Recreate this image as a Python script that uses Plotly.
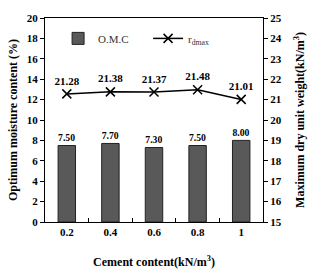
import plotly.graph_objects as go

categories = ["0.2", "0.4", "0.6", "0.8", "1"]
omc = [7.50, 7.70, 7.30, 7.50, 8.00]
rdmax = [21.28, 21.38, 21.37, 21.48, 21.01]

font_family = "Liberation Serif, Times New Roman, serif"

fig = go.Figure()
fig.add_trace(go.Bar(
    x=categories, y=omc, name="O.M.C",
    marker=dict(color="#595959", line=dict(color="#222222", width=1)),
    width=0.4,
    text=[f"{v:.2f}" for v in omc], textposition="outside",
    textfont=dict(family=font_family, size=11, color="black", weight="bold"),
    cliponaxis=False,
))
fig.add_trace(go.Scatter(
    x=categories, y=rdmax, name="r<sub>dmax</sub>", yaxis="y2",
    mode="lines+markers+text",
    line=dict(color="black", width=1.5),
    marker=dict(symbol="x-thin", size=9, line=dict(color="black", width=1.5)),
    text=[f"{v:.2f}" for v in rdmax], textposition="top center",
    textfont=dict(family=font_family, size=11, color="black", weight="bold"),
    cliponaxis=False,
))

axis_font = dict(family=font_family, size=11, color="black", weight="bold")
title_font = dict(family=font_family, size=12, color="black", weight="bold")
fig.update_layout(
    width=316, height=279,
    margin=dict(l=40, r=53, t=12, b=42),
    paper_bgcolor="white", plot_bgcolor="white",
    showlegend=True,
    legend=dict(orientation="h", x=0.06, y=0.9, xanchor="left", yanchor="middle",
                font=dict(family=font_family, size=11, color="#333333"),
                bgcolor="rgba(0,0,0,0)", itemwidth=30, entrywidth=45,
                entrywidthmode="pixels", tracegroupgap=0),
    xaxis=dict(type="category", range=[-0.5, 4.5], showline=True, linecolor="black",
               linewidth=1, mirror=True, ticks="inside", tickson="boundaries",
               ticklen=4, tickcolor="black", tickfont=axis_font, showgrid=False,
               title=dict(text="Cement content(kN/m<sup>3</sup>)", font=title_font, standoff=20)),
    yaxis=dict(range=[0, 20], dtick=2, showline=True, linecolor="black", linewidth=1,
               ticks="outside", ticklen=4, tickcolor="black", tickfont=axis_font,
               showgrid=False, zeroline=False,
               title=dict(text="Optimum moisture content (%)", font=title_font, standoff=6)),
    yaxis2=dict(range=[15, 25], dtick=1, overlaying="y", side="right", showline=True,
                linecolor="black", linewidth=1, ticks="outside", ticklen=4,
                tickcolor="black", tickfont=axis_font, showgrid=False, zeroline=False,
                title=dict(text="Maximum dry unit weight(kN/m<sup>3</sup>)", font=title_font, standoff=14)),
)

fig.write_html("out.html")
